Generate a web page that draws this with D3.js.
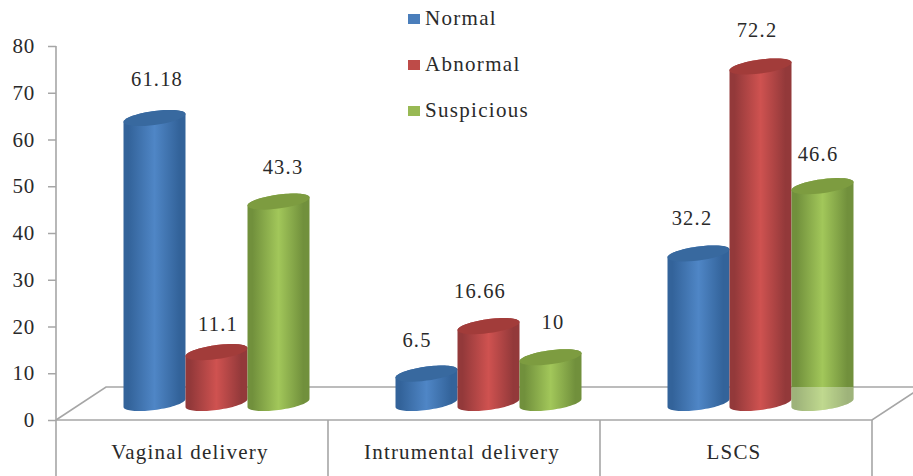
<!DOCTYPE html>
<html><head><meta charset="utf-8">
<script src="https://cdnjs.cloudflare.com/ajax/libs/d3/7.8.5/d3.min.js"></script>
<style>html,body{margin:0;padding:0;background:#fff}svg{display:block}text{font-family:"Liberation Serif",serif;fill:#2a2a2a}</style>
</head><body><svg id="chart" width="913" height="476"></svg>
<script>
const categories=["Vaginal delivery","Intrumental delivery","LSCS"];
const seriesNames=["Normal","Abnormal","Suspicious"];
const normal=[61.18,6.5,32.2];
const abnormal=[11.1,16.66,72.2];
const suspicious=[43.3,10,46.6];
const yTicks=[0,10,20,30,40,50,60,70,80];
const seriesValues=[normal,abnormal,suspicious];
const palette=[
 {id:"b",edge:"#33639a",mid:"#4f86c6",cap:"#38699f",sq:"#4a7ebb"},
 {id:"r",edge:"#93393a",mid:"#cf5250",cap:"#a23c3a",sq:"#be4b48"},
 {id:"g",edge:"#71903c",mid:"#a2c75a",cap:"#7d9c40",sq:"#98b954"}];
// label nudges [dx,dy] by category then series
const nudge=[[[2,-4],[1,7],[4,0]],[[-10,1],[-9,0],[2,0]],[[-7,0],[-4,-1],[-5,3]]];
const svg=d3.select("#chart");
const y=d3.scaleLinear().domain([0,80]).range([420,46]);
const x=d3.scaleBand().domain(categories).range([56,872]);
const depth={dx:50,dy:-33},lift=16;
const grey="#a6a6a6";
const defs=svg.append("defs");
palette.forEach(p=>{
 const g=defs.append("linearGradient").attr("id","grad"+p.id);
 [[0,p.edge],[.08,p.edge],[.5,p.mid],[.9,p.edge],[1,p.edge]].forEach(s=>g.append("stop").attr("offset",s[0]).attr("stop-color",s[1]));
});
// floor
const fl=svg.append("g").attr("fill","none").attr("stroke",grey).attr("stroke-width",1.6);
const x0=x.range()[0],x1=x.range()[1],y0=y(0);
fl.append("path").attr("d",`M${x0},${y0}L${x0+depth.dx},${y0+depth.dy}L${x1+depth.dx},${y0+depth.dy}`);
fl.append("path").attr("d",`M${x0},${y0}L${x1},${y0}L${x1+depth.dx},${y0+depth.dy}`);
categories.forEach(cat=>fl.append("line").attr("x1",x(cat)+x.bandwidth()).attr("x2",x(cat)+x.bandwidth()).attr("y1",y0).attr("y2",476));
fl.append("line").attr("x1",x0).attr("x2",x0).attr("y1",y(80)).attr("y2",476);
// y axis
const ax=svg.append("g").attr("transform",`translate(${x0},0)`).call(d3.axisLeft(y).tickValues(yTicks).tickSize(8).tickPadding(13));
ax.select(".domain").remove();
ax.selectAll("line").attr("stroke",grey).attr("stroke-width",1.5);
ax.selectAll("text").style("font-size","21px").style("fill","#2a2a2a").style("font-family",'"Liberation Serif",serif').style("letter-spacing","0.8px");
// cylinders: sheared ellipses sampled through d3.line
const bw=62,rx=31,ry=7,tilt=4;
const bar=d3.scaleBand().domain(d3.range(3)).range([-bw*1.5,bw*1.5]);
const floorBack=y0+depth.dy;
const line=d3.line();
const pt=(cx,yc,t)=>[cx+rx*Math.cos(t),yc+ry*Math.sin(t)-tilt*Math.cos(t)];
const angles=(a,b)=>d3.range(0,41).map(i=>a+(b-a)*i/40);
categories.forEach((cat,ci)=>{
 const cx0=x(cat)+x.bandwidth()/2+25;
 seriesValues.forEach((vals,si)=>{
  const p=palette[si],v=vals[ci];
  const cx=cx0+bar(si)+bw/2-.5,yt=y(v)-lift,yb=y(0)-lift-1;
  const g=svg.append("g");
  const pts=[...angles(Math.PI,0).map(t=>pt(cx,yb,t)),...angles(0,-Math.PI).map(t=>pt(cx,yt,t))];
  const d=line(pts)+"Z";
  g.append("path").attr("d",d).attr("fill",`url(#grad${p.id})`);
  g.append("path").attr("d",line(angles(0,2*Math.PI).map(t=>pt(cx,yt,t)))+"Z").attr("fill",p.cap);
  if(ci===2&&si===2){
   defs.append("clipPath").attr("id","floorclip").append("rect").attr("x",cx-rx-1).attr("y",floorBack).attr("width",bw+2).attr("height",40);
   g.append("path").attr("d",d).attr("fill","#fff").attr("opacity",.32).attr("clip-path","url(#floorclip)");
  }
 });
});
// value labels
categories.forEach((cat,ci)=>{
 const cx0=x(cat)+x.bandwidth()/2+25;
 seriesValues.forEach((vals,si)=>{
  const v=vals[ci],n=nudge[ci][si];
  svg.append("text").attr("x",cx0+bar(si)+bw/2+n[0]).attr("y",y(v)-lift-28+n[1])
   .attr("text-anchor","middle").style("font-size","20.5px").style("letter-spacing","1.2px").text(v);
 });
});
// category labels
svg.append("g").selectAll("text").data(categories).join("text")
 .attr("x",d=>x(d)+x.bandwidth()/2-2).attr("y",459).attr("text-anchor","middle")
 .style("font-size","21px").style("letter-spacing","1.2px").text(d=>d);
// legend
const ly=d3.scalePoint().domain(seriesNames).range([19,111]);
const lg=svg.append("g").selectAll("g").data(seriesNames).join("g").attr("transform",n=>`translate(0,${ly(n)})`);
lg.append("rect").attr("x",408).attr("y",-5).attr("width",12).attr("height",10).attr("fill",(n,i)=>palette[i].sq);
lg.append("text").attr("x",425).attr("y",6).style("font-size","21px").style("letter-spacing","1.3px").text(n=>n);
</script></body></html>
